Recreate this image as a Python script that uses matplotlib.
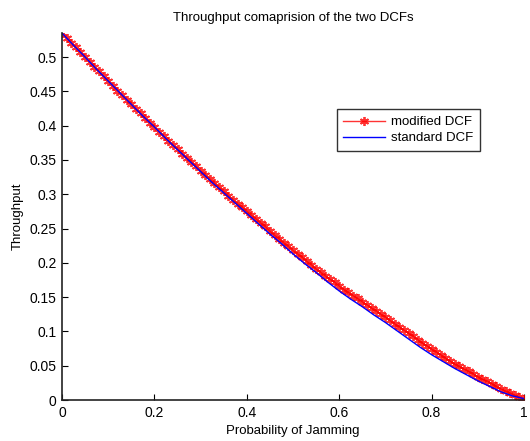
import numpy as np
import matplotlib
matplotlib.use("Agg")
import matplotlib.pyplot as plt
from matplotlib.ticker import FuncFormatter

plt.rcParams['font.family'] = ['Liberation Sans', 'DejaVu Sans']

# modified DCF (markers every 0.01)
p_mod = [i / 100 for i in range(101)]
thr_mod = [0.535, 0.528, 0.521, 0.514, 0.507, 0.500, 0.493, 0.486, 0.479, 0.472,
           0.465, 0.458, 0.451, 0.444, 0.438, 0.431, 0.424, 0.418, 0.411, 0.404,
           0.398, 0.391, 0.385, 0.378, 0.372, 0.366, 0.359, 0.353, 0.347, 0.341,
           0.334, 0.328, 0.322, 0.316, 0.310, 0.304, 0.298, 0.292, 0.286, 0.281,
           0.275, 0.269, 0.264, 0.258, 0.253, 0.246, 0.240, 0.235, 0.229, 0.224,
           0.218, 0.213, 0.208, 0.202, 0.197, 0.191, 0.186, 0.181, 0.176, 0.172,
           0.166, 0.161, 0.157, 0.152, 0.148, 0.143, 0.139, 0.134, 0.130, 0.125,
           0.121, 0.116, 0.111, 0.107, 0.102, 0.097, 0.093, 0.088, 0.083, 0.079,
           0.074, 0.070, 0.066, 0.061, 0.057, 0.052, 0.049, 0.045, 0.042, 0.038,
           0.034, 0.030, 0.028, 0.024, 0.020, 0.016, 0.013, 0.010, 0.007, 0.004,
           0.002]

# standard DCF
p_std = [i * 0.025 for i in range(41)]
thr_std = [0.535, 0.517, 0.500, 0.482, 0.465, 0.448, 0.431, 0.414, 0.398, 0.381,
           0.365, 0.349, 0.333, 0.317, 0.302, 0.287, 0.272, 0.257, 0.242, 0.228,
           0.213, 0.199, 0.186, 0.172, 0.159, 0.147, 0.136, 0.124, 0.113, 0.101,
           0.089, 0.077, 0.066, 0.056, 0.046, 0.037, 0.028, 0.020, 0.012, 0.006,
           0.002]

x_ticks = [0, 0.2, 0.4, 0.6, 0.8, 1]
y_ticks = [0, 0.05, 0.1, 0.15, 0.2, 0.25, 0.3, 0.35, 0.4, 0.45, 0.5]

fig = plt.figure(figsize=(5.30, 4.41), dpi=100)
ax = fig.add_axes([62 / 530, 41 / 441, 462 / 530, 367 / 441])

ax.plot(p_mod, thr_mod, color='#ff0000', lw=1.0, marker=(6, 2, 0), ms=6.5,
        mew=1.3, label='modified DCF', alpha=0.8)
ax.plot(p_std, thr_std, color='#0000ff', lw=1.0, label='standard DCF')

ax.set_xlim(0, 1)
ax.set_ylim(0, 0.535)
ax.set_xticks(x_ticks)
ax.set_yticks(y_ticks)
fmt = FuncFormatter(lambda v, pos: ('%g' % v))
ax.xaxis.set_major_formatter(fmt)
ax.yaxis.set_major_formatter(fmt)

for s in ['top', 'right']:
    ax.spines[s].set_visible(False)
for s in ['left', 'bottom']:
    ax.spines[s].set_linewidth(1.2)
    ax.spines[s].set_color('#222222')
ax.tick_params(direction='in', length=4, width=0.8, labelsize=10, pad=4)

ax.set_xlabel('Probability of Jamming', fontsize=9.5, labelpad=4)
ax.set_ylabel('Throughput', fontsize=9.5, labelpad=4)
ax.set_title('Throughput comaprision of the two DCFs', fontsize=9.5, pad=9)

leg = ax.legend(loc='upper right', bbox_to_anchor=(0.918, 0.81), fontsize=9.5,
                frameon=True, fancybox=False, edgecolor='black',
                handlelength=3.2, borderpad=0.5, labelspacing=0.3,
                handletextpad=0.4)
leg.get_frame().set_linewidth(1.0)

fig.savefig('out.png', dpi=100)
